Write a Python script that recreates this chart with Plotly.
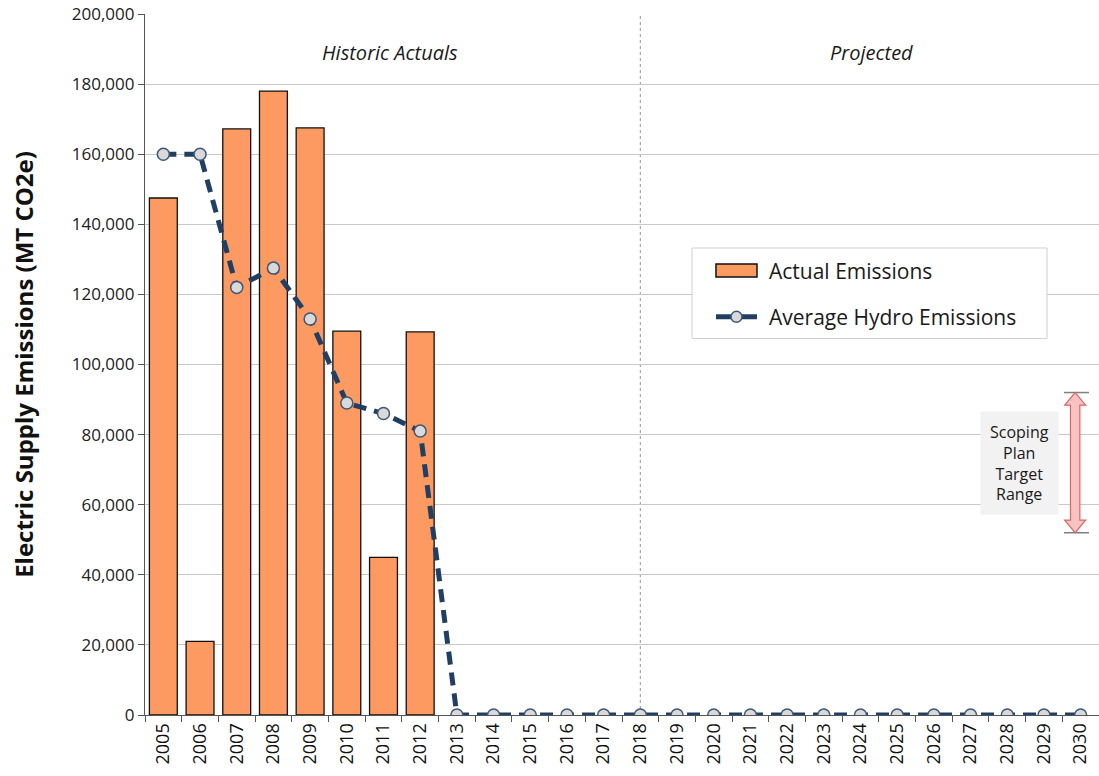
import plotly.graph_objects as go

years = [str(y) for y in range(2005, 2031)]
actual_years = ["2005", "2006", "2007", "2008", "2009", "2010", "2011", "2012"]
actual_emissions = [147500, 21000, 167200, 178000, 167500, 109500, 45000, 109300]
hydro_emissions = [160000, 160000, 122000, 127500, 113000, 89000, 86000, 81000] + [0] * 18
target_range = [52000, 92000]
y_ticks = list(range(0, 200001, 20000))
divider_year = "2018"

FONT = "'Open Sans', Lato, sans-serif"
BAR_COLOR = "#FD9A61"
LINE_COLOR = "#213F63"
MARKER_FILL = "#D9D9D9"
MARKER_EDGE = "#3E5878"

fig = go.Figure()
fig.add_trace(go.Bar(
    x=actual_years, y=actual_emissions, name="Actual Emissions",
    marker=dict(color=BAR_COLOR, line=dict(color="#111111", width=1.3)),
    width=0.76, showlegend=False,
))
fig.add_trace(go.Scatter(
    x=years, y=hydro_emissions, name="Average Hydro Emissions",
    mode="lines+markers",
    line=dict(color=LINE_COLOR, width=5, dash="13px,8px"),
    marker=dict(size=12, color=MARKER_FILL, line=dict(color=MARKER_EDGE, width=1.5)),
    showlegend=False,
))

# Divider between historic and projected
div_idx = years.index(divider_year)
fig.add_shape(type="line", xref="x", yref="paper", x0=div_idx, x1=div_idx, y0=0, y1=1,
              line=dict(color="#A6A6A6", width=1.2, dash="dot"), layer="below")

fig.add_annotation(x=0.257, xref="paper", xanchor="center", y=189000, yref="y",
                   text="<i>Historic Actuals</i>",
                   showarrow=False, font=dict(family=FONT, size=20, color="#1A1A1A"))
fig.add_annotation(x=0.762, xref="paper", xanchor="center", y=189000, yref="y",
                   text="<i>Projected</i>",
                   showarrow=False, font=dict(family=FONT, size=20, color="#1A1A1A"))

# Scoping plan target range: caps + block double arrow
ax_x = 0.975
for v in target_range:
    fig.add_shape(type="line", xref="paper", yref="y", x0=0.9633, x1=0.9895,
                  y0=v, y1=v, line=dict(color="#7F7F7F", width=1.5))
lo, hi = target_range
head = 3600
hw, sw = 10.5, 4.7
path = (f"M 0,{hi} L {hw},{hi - head} L {sw},{hi - head} L {sw},{lo + head} "
        f"L {hw},{lo + head} L 0,{lo} L {-hw},{lo + head} L {-sw},{lo + head} "
        f"L {-sw},{hi - head} L {-hw},{hi - head} Z")
fig.add_shape(type="path", xref="paper", yref="y", xsizemode="pixel", xanchor=ax_x,
              path=path, fillcolor="#F7C2C2", line=dict(color="#DD6666", width=1.2))
fig.add_annotation(x=0.917, xref="paper", xanchor="center", y=(lo + hi) / 2, yref="y",
                   text="Scoping<br>Plan<br>Target<br>Range", showarrow=False,
                   bgcolor="#F2F2F2", borderpad=9, align="center",
                   font=dict(family=FONT, size=16, color="#1A1A1A"))

# Legend (drawn)
fig.add_shape(type="rect", xref="paper", yref="paper", x0=0.5734, x1=0.9455, y0=0.537, y1=0.6662,
              fillcolor="white", line=dict(color="#D0D0D0", width=1))
fig.add_shape(type="rect", xref="paper", yref="paper", x0=0.5985, x1=0.6415, y0=0.625, y1=0.6435,
              fillcolor=BAR_COLOR, line=dict(color="#111111", width=1.5))
fig.add_shape(type="line", xref="paper", yref="paper", x0=0.5985, x1=0.6415, y0=0.568, y1=0.568,
              line=dict(color=LINE_COLOR, width=5))
fig.add_shape(type="circle", xref="paper", yref="paper", xsizemode="pixel", ysizemode="pixel",
              xanchor=0.62, yanchor=0.568, x0=-5.5, x1=5.5, y0=-5.5, y1=5.5,
              fillcolor=MARKER_FILL, line=dict(color=MARKER_EDGE, width=1.5))
fig.add_annotation(x=0.652, xref="paper", y=0.6335, yref="paper", text="Actual Emissions",
                   showarrow=False, xanchor="left", font=dict(family=FONT, size=21, color="#1A1A1A"))
fig.add_annotation(x=0.652, xref="paper", y=0.568, yref="paper", text="Average Hydro Emissions",
                   showarrow=False, xanchor="left", font=dict(family=FONT, size=21, color="#1A1A1A"))

fig.update_layout(
    width=1099, height=776,
    margin=dict(l=145, r=0, t=14, b=61, autoexpand=False),
    paper_bgcolor="white", plot_bgcolor="white",
    font=dict(family=FONT, size=16, color="#222222"),
    showlegend=False,
)
fig.update_xaxes(
    type="category", categoryorder="array", categoryarray=years, range=[-0.5, len(years) - 0.5],
    tickangle=-90, tickson="boundaries", ticks="outside", ticklen=6, tickcolor="#555555",
    showline=True, linecolor="#555555", linewidth=1.2, showgrid=False, automargin=False,
    tickfont=dict(family=FONT, size=18, color="#111111"), ticklabeloverflow="allow",
)
fig.update_yaxes(
    range=[0, 200000], tickvals=y_ticks, tickformat=",", automargin=False,
    ticks="outside", ticklen=6, tickcolor="#555555", ticklabeloverflow="allow",
    showline=True, linecolor="#555555", linewidth=1.2,
    showgrid=True, gridcolor="#C8C8C8", gridwidth=1,
    tickfont=dict(family=FONT, size=17, color="#222222"),
    title=dict(text="<b>Electric Supply Emissions (MT CO2e)</b>",
               font=dict(family=FONT, size=24, color="#111111"), standoff=31),
)

fig.write_html("out.html", config={"displayModeBar": False},
               post_script="document.body.style.margin='0';document.body.style.padding='0';")
